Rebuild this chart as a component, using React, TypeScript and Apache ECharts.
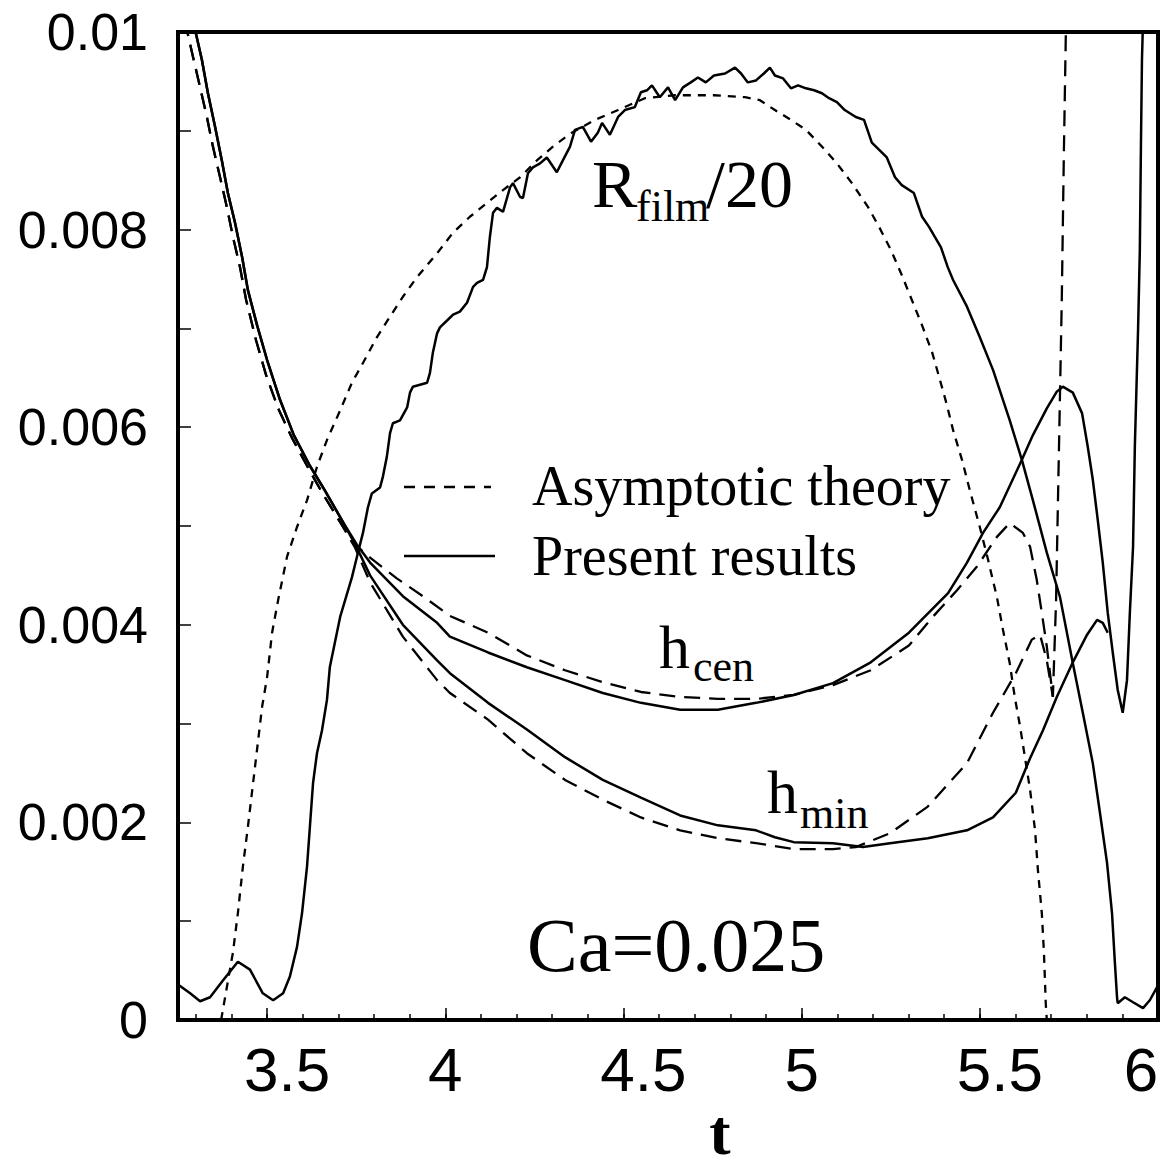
import React, { useEffect, useRef } from 'react';
import * as echarts from 'echarts';

// ---------- data (t, value) ----------
const asymRfilm: [number, number][] = [
  [3.371, 0], [3.387, 0.00033], [3.404, 0.00068], [3.418, 0.00108], [3.432, 0.00155], [3.446, 0.00195],
  [3.466, 0.00256], [3.486, 0.00317], [3.5, 0.00347], [3.514, 0.00392], [3.531, 0.00425], [3.556, 0.00469],
  [3.584, 0.00499], [3.612, 0.00526], [3.64, 0.0056], [3.668, 0.00587], [3.705, 0.00617], [3.738, 0.00645],
  [3.769, 0.00665], [3.808, 0.00691], [3.845, 0.00712], [3.881, 0.00732], [3.921, 0.00752], [3.977, 0.00776],
  [4.022, 0.00797], [4.069, 0.00813], [4.117, 0.00827], [4.162, 0.0084], [4.21, 0.00853], [4.257, 0.0087],
  [4.302, 0.00884], [4.35, 0.00897], [4.42, 0.00911], [4.485, 0.00921], [4.56, 0.00933], [4.645, 0.00936],
  [4.754, 0.00936], [4.841, 0.00934], [4.883, 0.00931], [4.925, 0.00921], [4.97, 0.00911], [5.012, 0.00901],
  [5.057, 0.00884], [5.099, 0.00867], [5.141, 0.00847], [5.186, 0.00823], [5.217, 0.00803], [5.251, 0.00779],
  [5.281, 0.00754], [5.309, 0.00729], [5.338, 0.00703], [5.366, 0.00676], [5.388, 0.00648], [5.408, 0.00622],
  [5.425, 0.00597], [5.45, 0.00567], [5.472, 0.00536], [5.5, 0.00499], [5.523, 0.00466], [5.548, 0.00428],
  [5.565, 0.00395], [5.584, 0.00361], [5.598, 0.00327], [5.613, 0.00297], [5.641, 0.00233], [5.655, 0.00192],
  [5.663, 0.00152], [5.674, 0.00108], [5.68, 0.00068], [5.685, 0.00017], [5.688, 0],
];

const asymHcen: [number, number][] = [
  [3.272, 0.01012], [3.275, 0.01002], [3.292, 0.00975], [3.312, 0.00944], [3.331, 0.00914], [3.348, 0.00884],
  [3.368, 0.00853], [3.387, 0.00823], [3.404, 0.00793], [3.424, 0.00762], [3.441, 0.00729], [3.469, 0.00688],
  [3.497, 0.00653], [3.531, 0.00619], [3.57, 0.00589], [3.615, 0.00559], [3.654, 0.00534], [3.705, 0.00504],
  [3.747, 0.00481], [3.789, 0.00468], [3.864, 0.00447], [3.937, 0.00429], [4.013, 0.00409], [4.12, 0.00392],
  [4.229, 0.00369], [4.336, 0.00354], [4.442, 0.00342], [4.549, 0.00332], [4.659, 0.00327], [4.765, 0.00325],
  [4.872, 0.00325], [4.978, 0.00329], [5.088, 0.00339], [5.194, 0.00354], [5.301, 0.00379], [5.368, 0.00408],
  [5.436, 0.00435], [5.492, 0.00459], [5.548, 0.00489], [5.584, 0.00503], [5.621, 0.00493], [5.641, 0.00479],
  [5.66, 0.00445], [5.674, 0.00412], [5.688, 0.00378], [5.705, 0.00327], [5.714, 0.00425], [5.722, 0.00577],
  [5.73, 0.00729], [5.736, 0.00881], [5.742, 0.01012],
];

const asymHmin: [number, number][] = [
  [3.272, 0.01012], [3.275, 0.01002], [3.292, 0.00975], [3.312, 0.00944], [3.331, 0.00914], [3.348, 0.00884],
  [3.368, 0.00853], [3.387, 0.00823], [3.404, 0.00793], [3.424, 0.00762], [3.441, 0.00729], [3.469, 0.00688],
  [3.497, 0.00653], [3.531, 0.00619], [3.57, 0.00589], [3.615, 0.00559], [3.654, 0.00534], [3.705, 0.00504],
  [3.747, 0.00478], [3.789, 0.00443], [3.881, 0.00388], [3.977, 0.00344], [4.013, 0.00331], [4.12, 0.00304],
  [4.229, 0.0027], [4.336, 0.00243], [4.442, 0.00223], [4.549, 0.00205], [4.659, 0.00192], [4.765, 0.00184],
  [4.872, 0.00179], [4.978, 0.00173], [5.088, 0.00173], [5.152, 0.00175], [5.248, 0.00189], [5.354, 0.00216],
  [5.464, 0.0026], [5.537, 0.00311], [5.601, 0.00351], [5.646, 0.00385], [5.669, 0.0039], [5.688, 0.00364],
  [5.705, 0.00327],
];

const presRfilm: [number, number][] = [
  [3.25, 0.00036], [3.284, 0.00027], [3.312, 0.00019], [3.34, 0.00023], [3.376, 0.0004], [3.418, 0.00059],
  [3.452, 0.00051], [3.488, 0.00027], [3.517, 0.0002], [3.545, 0.00027], [3.564, 0.00044], [3.584, 0.00074],
  [3.598, 0.00108], [3.612, 0.00155], [3.62, 0.00195], [3.629, 0.0024], [3.64, 0.0027], [3.654, 0.00293],
  [3.668, 0.00324], [3.676, 0.00357], [3.705, 0.00408], [3.738, 0.00448], [3.755, 0.00473], [3.769, 0.00493],
  [3.783, 0.00519], [3.794, 0.00533], [3.817, 0.00539], [3.825, 0.0055], [3.836, 0.0057], [3.845, 0.00594],
  [3.853, 0.00604], [3.873, 0.00607], [3.893, 0.0062], [3.901, 0.00635], [3.909, 0.00641], [3.949, 0.00645],
  [3.957, 0.00655], [3.965, 0.00675], [3.977, 0.00695], [3.985, 0.00701], [4.005, 0.00708], [4.022, 0.00714],
  [4.041, 0.00717], [4.061, 0.00726], [4.078, 0.00742], [4.089, 0.00746], [4.106, 0.00749], [4.117, 0.00762],
  [4.125, 0.00792], [4.134, 0.00817], [4.145, 0.00822], [4.162, 0.00818], [4.182, 0.00843], [4.19, 0.00847],
  [4.21, 0.00833], [4.218, 0.00832], [4.232, 0.00857], [4.246, 0.00863], [4.266, 0.00867], [4.285, 0.00873],
  [4.313, 0.00858], [4.33, 0.0087], [4.35, 0.00884], [4.364, 0.00901], [4.386, 0.00904], [4.409, 0.00889],
  [4.428, 0.00898], [4.44, 0.00908], [4.462, 0.00896], [4.485, 0.00914], [4.504, 0.00921], [4.532, 0.00924],
  [4.549, 0.00939], [4.566, 0.00941], [4.58, 0.00946], [4.602, 0.00934], [4.625, 0.00944], [4.645, 0.00931],
  [4.667, 0.00944], [4.689, 0.00949], [4.709, 0.00954], [4.731, 0.00949], [4.754, 0.00956], [4.785, 0.00958],
  [4.813, 0.00964], [4.83, 0.00958], [4.849, 0.00949], [4.872, 0.00951], [4.894, 0.00958], [4.911, 0.00964],
  [4.925, 0.00956], [4.948, 0.00953], [4.97, 0.00943], [4.99, 0.00946], [5.012, 0.00943], [5.035, 0.00941],
  [5.057, 0.00938], [5.077, 0.00933], [5.099, 0.00929], [5.121, 0.00921], [5.152, 0.00914], [5.175, 0.00911],
  [5.197, 0.00888], [5.217, 0.00881], [5.239, 0.00873], [5.262, 0.00853], [5.281, 0.00845], [5.315, 0.00837],
  [5.338, 0.00813], [5.357, 0.00803], [5.391, 0.00782], [5.41, 0.00762], [5.425, 0.00749], [5.464, 0.00722],
  [5.5, 0.00691], [5.537, 0.00658], [5.584, 0.00607], [5.618, 0.00567], [5.649, 0.00526], [5.688, 0.00473],
  [5.725, 0.00428], [5.761, 0.00361], [5.789, 0.00311], [5.817, 0.0026], [5.837, 0.0021], [5.857, 0.00159],
  [5.871, 0.00108], [5.879, 0.00058], [5.885, 0.00023], [5.887, 0.00017], [5.907, 0.00023], [5.93, 0.00018],
  [5.958, 0.00012], [5.977, 0.0002], [5.997, 0.00033],
];

const presHcen: [number, number][] = [
  [3.295, 0.01012], [3.298, 0.01002], [3.317, 0.00972], [3.334, 0.00938], [3.354, 0.00904], [3.373, 0.0087],
  [3.39, 0.00837], [3.41, 0.00807], [3.43, 0.00772], [3.446, 0.00739], [3.472, 0.00703], [3.5, 0.00668],
  [3.536, 0.00628], [3.575, 0.00592], [3.62, 0.00561], [3.662, 0.00536], [3.713, 0.00504], [3.752, 0.00481],
  [3.789, 0.00463], [3.881, 0.00429], [3.977, 0.00402], [4.013, 0.00388], [4.12, 0.00372], [4.229, 0.00357],
  [4.336, 0.00344], [4.442, 0.00331], [4.549, 0.00321], [4.659, 0.00314], [4.765, 0.00314], [4.872, 0.00321],
  [4.978, 0.00329], [5.088, 0.00341], [5.194, 0.00362], [5.301, 0.00392], [5.411, 0.00432], [5.464, 0.00463],
  [5.509, 0.00493], [5.556, 0.00519], [5.618, 0.00567], [5.649, 0.00592], [5.688, 0.00619], [5.716, 0.00636],
  [5.733, 0.00641], [5.761, 0.00635], [5.787, 0.00614], [5.803, 0.0058], [5.817, 0.00547], [5.831, 0.00506],
  [5.845, 0.00463], [5.859, 0.00412], [5.873, 0.00372], [5.887, 0.00334], [5.901, 0.00311], [5.913, 0.00344],
  [5.921, 0.00412], [5.93, 0.00479], [5.935, 0.0058], [5.944, 0.00698], [5.949, 0.00779], [5.952, 0.00881],
  [5.955, 0.00972], [5.958, 0.01012],
];

const presHmin: [number, number][] = [
  [3.295, 0.01012], [3.298, 0.01002], [3.317, 0.00972], [3.334, 0.00938], [3.354, 0.00904], [3.373, 0.0087],
  [3.39, 0.00837], [3.41, 0.00807], [3.43, 0.00772], [3.446, 0.00739], [3.472, 0.00703], [3.5, 0.00668],
  [3.536, 0.00628], [3.575, 0.00592], [3.62, 0.00561], [3.662, 0.00536], [3.713, 0.00504], [3.752, 0.00478],
  [3.789, 0.0045], [3.881, 0.004], [3.977, 0.00364], [4.013, 0.00351], [4.12, 0.00321], [4.229, 0.00294],
  [4.336, 0.00266], [4.442, 0.00243], [4.549, 0.00225], [4.659, 0.00207], [4.765, 0.00197], [4.872, 0.00192],
  [4.925, 0.00185], [4.978, 0.0018], [5.088, 0.00179], [5.172, 0.00175], [5.248, 0.00179], [5.354, 0.00184],
  [5.464, 0.00192], [5.537, 0.00205], [5.601, 0.0023], [5.641, 0.00265], [5.677, 0.00293], [5.716, 0.00327],
  [5.761, 0.00362], [5.801, 0.0039], [5.829, 0.00405], [5.845, 0.00402], [5.859, 0.00392],
];

// ---------- axis ticks / labels ----------
const xLabelValues = [3.5, 4, 4.5, 5, 5.5, 6];
const xMinorTicks = [3.3, 3.4, 3.5, 3.6, 3.7, 3.8, 3.9, 4.0, 4.1, 4.2, 4.3, 4.4, 4.5, 4.6, 4.7, 4.8, 4.9,
  5.0, 5.1, 5.2, 5.3, 5.4, 5.5, 5.6, 5.7, 5.8, 5.9];
const yLabelValues = [0, 0.002, 0.004, 0.006, 0.008, 0.01];
const yTickValues = [0, 0.001, 0.002, 0.003, 0.004, 0.005, 0.006, 0.007, 0.008, 0.009, 0.01];

const SERIF = '"Liberation Serif", "Times New Roman", serif';
const SANS = '"Liberation Sans", Arial, sans-serif';

const W = 1163;
const H = 1166;

function txt(text: string, x: number, y: number, size: number, opts: any = {}) {
  return {
    type: 'text',
    x,
    y,
    silent: true,
    style: {
      text,
      fill: '#000',
      fontSize: size,
      fontFamily: opts.family || SERIF,
      fontWeight: opts.weight || 'normal',
      align: opts.align || 'left',
      textAlign: opts.align || 'left',
      verticalAlign: 'middle',
      textVerticalAlign: 'middle',
    },
  };
}

export default function App() {
  const ref = useRef<HTMLDivElement>(null);

  useEffect(() => {
    document.documentElement.style.overflow = 'hidden';
    document.body.style.overflow = 'hidden';
    document.body.style.margin = '0';
    const chart = echarts.init(ref.current!, null, { renderer: 'svg', width: W, height: H });
    const dashH = [16, 9];
    const dashR = [8, 7];
    const mk = (name: string, data: [number, number][], dash: any, width: number) => ({
      type: 'line',
      name,
      data,
      xAxisIndex: 0,
      yAxisIndex: 0,
      showSymbol: false,
      symbol: 'none',
      smooth: false,
      clip: true,
      silent: true,
      lineStyle: { color: '#000', width, type: dash },
    });

    const labelStyle = { fontSize: 62, fontFamily: SANS, color: '#000' };

    chart.setOption({
      animation: false,
      backgroundColor: '#fff',
      grid: {
        left: 178,
        right: 5,
        top: 32,
        bottom: 146,
        show: true,
        borderColor: '#000',
        borderWidth: 4,
        backgroundColor: 'transparent',
        containLabel: false,
        outerBoundsMode: 'none',
      },
      xAxis: [
        {
          type: 'value',
          min: 3.25,
          max: 6,
          position: 'bottom',
          axisLine: { show: false },
          splitLine: { show: false },
          axisTick: {
            show: true,
            inside: true,
            length: 12,
            customValues: xLabelValues,
            lineStyle: { color: '#000', width: 1.5 },
          },
          axisLabel: {
            show: true,
            customValues: xLabelValues,
            margin: 18,
            hideOverlap: false,
            showMaxLabel: true,
            showMinLabel: true,
            formatter: (v: number) =>
              v === 6 ? `{e|${v}}` : Number.isInteger(v) ? `{i|${v}}` : `{d|${v}}`,
            rich: {
              i: { ...labelStyle },
              d: { ...labelStyle, padding: [0, 0, 0, 40] },
              e: { ...labelStyle, padding: [0, 34, 0, 0] },
            },
          },
        },
        {
          type: 'value',
          min: 3.25,
          max: 6,
          position: 'bottom',
          axisLine: { show: false },
          splitLine: { show: false },
          axisLabel: { show: false },
          axisTick: {
            show: true,
            inside: true,
            length: 6,
            customValues: xMinorTicks,
            lineStyle: { color: '#000', width: 1.5 },
          },
        },
      ],
      yAxis: {
        type: 'value',
        min: 0,
        max: 0.01,
        axisLine: { show: false },
        splitLine: { show: false },
        axisTick: {
          show: true,
          inside: true,
          length: 13,
          customValues: yTickValues,
          lineStyle: { color: '#000', width: 1.5 },
        },
        axisLabel: {
          show: true,
          customValues: yLabelValues,
          margin: 30,
          fontSize: 52,
          fontFamily: SANS,
          color: '#000',
          formatter: (v: number) => (v === 0 ? '0' : String(v)),
        },
      },
      series: [
        mk('Asymptotic R_film/20', asymRfilm, dashR, 2.3),
        mk('Asymptotic h_cen', asymHcen, dashH, 2.3),
        mk('Asymptotic h_min', asymHmin, dashH, 2.3),
        mk('Present R_film/20', presRfilm, 'solid', 2.5),
        mk('Present h_cen', presHcen, 'solid', 2.5),
        mk('Present h_min', presHmin, 'solid', 2.5),
      ],
      graphic: {
        elements: [
          // legend
          {
            type: 'line',
            silent: true,
            shape: { x1: 404, y1: 487, x2: 491, y2: 487 },
            style: { stroke: '#000', lineWidth: 2.3, lineDash: [11, 9] },
          },
          {
            type: 'line',
            silent: true,
            shape: { x1: 404, y1: 556, x2: 495, y2: 556 },
            style: { stroke: '#000', lineWidth: 2.3 },
          },
          txt('Asymptotic theory', 532, 486, 56),
          txt('Present results', 532, 556, 56),
          // curve annotations
          txt('R', 592, 184, 68),
          txt('film', 636, 206, 44),
          txt('/20', 706, 184, 68),
          txt('h', 659, 647, 62),
          txt('cen', 693, 666, 44),
          txt('h', 767, 792, 62),
          txt('min', 800, 813, 44),
          txt('Ca=0.025', 527, 945, 76),
          // x axis title
          txt('t', 720, 1132, 64, { align: 'center', weight: 'bold' }),
        ],
      },
    });

    return () => chart.dispose();
  }, []);

  return (
    <div
      ref={ref}
      style={{ position: 'absolute', left: 0, top: 0, width: W, height: H, background: '#fff' }}
    />
  );
}
